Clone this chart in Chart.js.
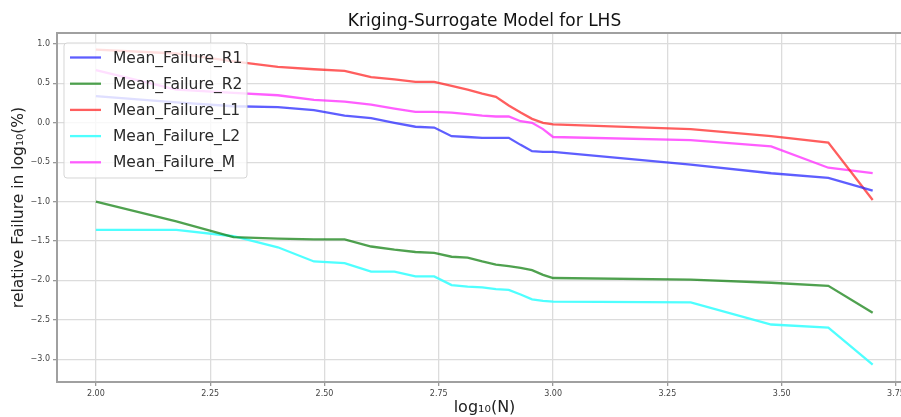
<!DOCTYPE html>
<html lang="en">
<head>
    <meta charset="UTF-8">
    <title>Kriging-Surrogate Model for LHS</title>
    <script src="https://cdn.jsdelivr.net/npm/chart.js@4"></script>
    <style>
        html, body { margin: 0; padding: 0; background: #fff; overflow: hidden; }
        #wrap { width: 925px; height: 417px; }
    </style>
</head>
<body>
    <div id="wrap"><canvas id="real-graph" width="925" height="417"></canvas></div>
    <script>
        // log10(N) for N = 100, 150, 200 ... 1000, 2000, 3000, 4000, 5000
        const logN = [2.000, 2.176, 2.301, 2.398, 2.477, 2.544, 2.602, 2.653, 2.699, 2.740, 2.778, 2.813,
                      2.845, 2.875, 2.903, 2.929, 2.954, 2.978, 3.000, 3.301, 3.477, 3.602, 3.699];

        const meanR1 = [0.34, 0.26, 0.21, 0.20, 0.16, 0.09, 0.06, 0.00, -0.05, -0.06, -0.17, -0.18,
                        -0.19, -0.19, -0.19, -0.28, -0.36, -0.37, -0.37, -0.53, -0.64, -0.70, -0.86];
        const meanR2 = [-1.00, -1.25, -1.45, -1.47, -1.48, -1.48, -1.57, -1.61, -1.64, -1.65, -1.70, -1.71,
                        -1.76, -1.80, -1.82, -1.84, -1.87, -1.93, -1.97, -1.99, -2.03, -2.07, -2.41];
        const meanL1 = [0.93, 0.88, 0.78, 0.71, 0.68, 0.66, 0.58, 0.55, 0.52, 0.52, 0.47, 0.42,
                        0.37, 0.33, 0.22, 0.13, 0.05, 0.00, -0.02, -0.08, -0.17, -0.25, -0.98];
        const meanL2 = [-1.36, -1.36, -1.44, -1.58, -1.76, -1.78, -1.89, -1.89, -1.95, -1.95, -2.06, -2.08,
                        -2.09, -2.11, -2.12, -2.18, -2.24, -2.26, -2.27, -2.28, -2.56, -2.60, -3.07];
        const meanM = [0.67, 0.42, 0.38, 0.35, 0.29, 0.27, 0.23, 0.18, 0.14, 0.14, 0.13, 0.11,
                       0.09, 0.08, 0.08, 0.02, 0.00, -0.08, -0.18, -0.22, -0.30, -0.57, -0.64];

        const seriesNames = ['Mean_Failure_R1', 'Mean_Failure_R2', 'Mean_Failure_L1', 'Mean_Failure_L2', 'Mean_Failure_M'];
        const xTicks = [2.00, 2.25, 2.50, 2.75, 3.00, 3.25, 3.50, 3.75];
        const yTicks = [-3.0, -2.5, -2.0, -1.5, -1.0, -0.5, 0.0, 0.5, 1.0];

        const colors = ['rgba(40,40,255,0.75)', 'rgba(20,130,20,0.75)', 'rgba(255,40,40,0.75)',
                        'rgba(60,255,255,0.9)', 'rgba(255,40,255,0.75)'];
        const allSeries = [meanR1, meanR2, meanL1, meanL2, meanM];

        const datasets = allSeries.map((vals, i) => ({
            label: seriesNames[i],
            data: vals.map((v, j) => ({ x: logN[j], y: v })),
            borderColor: colors[i],
            backgroundColor: colors[i],
            borderWidth: 2.3,
            pointRadius: 0,
            tension: 0,
            fill: false
        }));

        const minus = s => s.replace('-', '\u2212');

        // title centred over the plot area, top/right spines, matplotlib style legend box
        const extras = {
            id: 'extras',
            afterDraw(chart) {
                const ctx = chart.ctx;
                const a = chart.chartArea;
                ctx.save();
                ctx.strokeStyle = '#a0a0a0';
                ctx.lineWidth = 2;
                ctx.beginPath();
                ctx.moveTo(a.left, a.top);
                ctx.lineTo(a.right, a.top);
                ctx.lineTo(a.right, a.bottom);
                ctx.stroke();

                ctx.fillStyle = '#111';
                ctx.font = '17px "DejaVu Sans"';
                ctx.textAlign = 'center';
                ctx.textBaseline = 'middle';
                ctx.fillText('Kriging-Surrogate Model for LHS', (a.left + a.right) / 2, 22);

                // legend
                const bx = 64, by = 43, bw = 183, bh = 135;
                ctx.fillStyle = 'rgba(255,255,255,0.8)';
                ctx.strokeStyle = 'rgba(210,210,210,0.9)';
                ctx.lineWidth = 1;
                ctx.beginPath();
                ctx.roundRect(bx, by, bw, bh, 3);
                ctx.fill();
                ctx.stroke();
                ctx.textAlign = 'left';
                ctx.font = '15.5px "DejaVu Sans"';
                seriesNames.forEach((name, i) => {
                    const y = 57.5 + i * 26.2;
                    ctx.strokeStyle = colors[i];
                    ctx.lineWidth = 2.3;
                    ctx.beginPath();
                    ctx.moveTo(70, y);
                    ctx.lineTo(101, y);
                    ctx.stroke();
                    ctx.fillStyle = '#2a2a2a';
                    ctx.fillText(name, 113, y + 1);
                });
                ctx.restore();
            }
        };

        const ctx = document.getElementById('real-graph').getContext('2d');
        const myChart = new Chart(ctx, {
            type: 'line',
            data: { datasets: datasets },
            plugins: [extras],
            options: {
                responsive: false,
                animation: false,
                layout: { padding: { top: 33, right: 13, left: 0, bottom: 0 } },
                plugins: {
                    legend: { display: false },
                    title: { display: false },
                    tooltip: { enabled: false }
                },
                scales: {
                    x: {
                        type: 'linear',
                        min: 1.915,
                        max: 3.785,
                        afterBuildTicks: s => { s.ticks = xTicks.map(v => ({ value: v })); },
                        afterFit: s => { s.height = 35; },
                        ticks: {
                            callback: v => v.toFixed(2),
                            color: '#444',
                            font: { size: 8, family: 'DejaVu Sans' },
                            maxRotation: 0,
                            padding: 3
                        },
                        grid: { color: '#dcdcdc', lineWidth: 1.3, tickLength: 4, tickColor: '#999' },
                        border: { color: '#a0a0a0', width: 2 },
                        title: {
                            display: true,
                            text: 'log\u2081\u2080(N)',
                            color: '#222',
                            font: { size: 16, family: 'DejaVu Sans' },
                            padding: { top: 0, bottom: 0 }
                        }
                    },
                    y: {
                        type: 'linear',
                        min: -3.29,
                        max: 1.14,
                        afterBuildTicks: s => { s.ticks = yTicks.map(v => ({ value: v })); },
                        afterFit: s => { s.width = 57; },
                        ticks: {
                            callback: v => minus(v.toFixed(1)),
                            color: '#444',
                            font: { size: 8, family: 'DejaVu Sans' },
                            padding: 3
                        },
                        grid: { color: '#dcdcdc', lineWidth: 1.3, tickLength: 4, tickColor: '#999' },
                        border: { color: '#a0a0a0', width: 2 },
                        title: {
                            display: true,
                            text: 'relative Failure in log\u2081\u2080(%)',
                            color: '#222',
                            font: { size: 15.5, family: 'DejaVu Sans' },
                            padding: { top: 10, bottom: 0 }
                        }
                    }
                }
            }
        });
    </script>
</body>
</html>
